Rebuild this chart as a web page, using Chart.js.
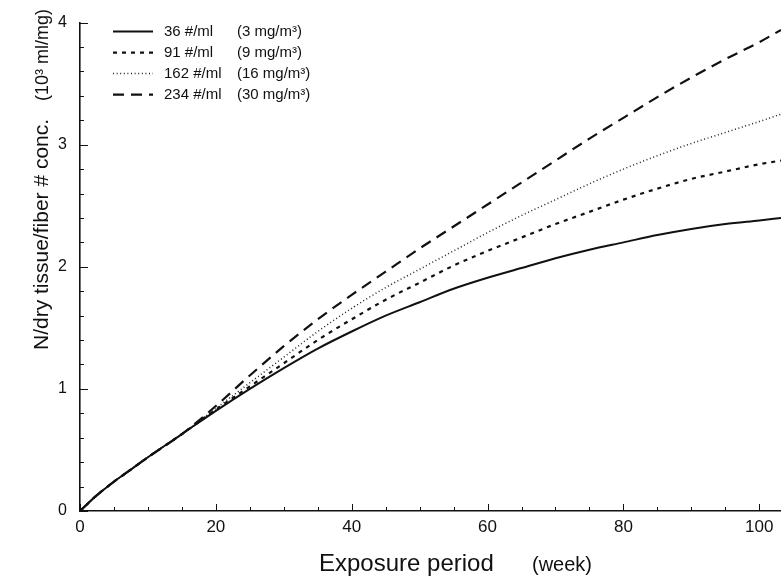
<!DOCTYPE html>
<html>
<head>
<meta charset="utf-8">
<script src="https://cdn.jsdelivr.net/npm/chart.js@4.4.1/dist/chart.umd.min.js"></script>
<style>
  html, body { margin: 0; padding: 0; background: #fff; }
  #wrap { width: 781px; height: 578px; position: relative; }
</style>
</head>
<body>
<div id="wrap"><canvas id="myChart"></canvas></div>
<script>
// exposure weeks (x) and normalised lung burden per concentration (y, 10^3 ml/mg)
const weeks   = [0, 2.5, 5, 7.5, 10, 15, 20, 25, 30, 35, 40, 45, 50, 55, 60, 65, 70, 75, 80, 85, 90, 95, 100, 103.2];
const conc36  = [0, 0.13, 0.24, 0.34, 0.44, 0.63, 0.82, 1.00, 1.17, 1.33, 1.47, 1.60, 1.71, 1.82, 1.91, 1.99, 2.07, 2.14, 2.20, 2.26, 2.31, 2.35, 2.38, 2.40];
const conc91  = [0, 0.13, 0.24, 0.34, 0.44, 0.63, 0.83, 1.02, 1.21, 1.40, 1.57, 1.73, 1.87, 2.01, 2.13, 2.24, 2.35, 2.45, 2.55, 2.64, 2.72, 2.78, 2.84, 2.87];
const conc162 = [0, 0.13, 0.24, 0.34, 0.44, 0.63, 0.84, 1.05, 1.26, 1.47, 1.66, 1.83, 1.98, 2.13, 2.28, 2.42, 2.55, 2.68, 2.80, 2.91, 3.01, 3.10, 3.19, 3.25];
const conc234 = [0, 0.13, 0.24, 0.34, 0.44, 0.63, 0.86, 1.11, 1.35, 1.57, 1.77, 1.96, 2.15, 2.33, 2.51, 2.69, 2.87, 3.05, 3.22, 3.39, 3.55, 3.70, 3.84, 3.94];

const fiberCounts = ['36 #/ml', '91 #/ml', '162 #/ml', '234 #/ml'];
const massConcs   = ['(3 mg/m\u00B3)', '(9 mg/m\u00B3)', '(16 mg/m\u00B3)', '(30 mg/m\u00B3)'];

const xTickLabels = [0, 20, 40, 60, 80, 100];
const yTickLabels = [0, 1, 2, 3, 4];
const xMinorStep = 5;
const yMinorStep = 0.2;

const FONT = '"Liberation Sans", Arial, Helvetica, sans-serif';
const INK = '#111';

const toPoints = (ys) => weeks.map((w, i) => ({ x: w, y: ys[i] }));

// small inward tick marks, positioned through the chart scales
const insideTicks = {
  id: 'insideTicks',
  afterDatasetsDraw(chart) {
    const { ctx, chartArea, scales: { x, y } } = chart;
    ctx.save();
    ctx.strokeStyle = INK;
    ctx.lineWidth = 1;
    ctx.setLineDash([]);
    for (let i = 0; i * xMinorStep <= x.max; i++) {
      const v = i * xMinorStep;
      const px = Math.round(x.getPixelForValue(v)) + 0.5;
      const len = xTickLabels.includes(v) ? 7 : 4;
      ctx.beginPath();
      ctx.moveTo(px, chartArea.bottom);
      ctx.lineTo(px, chartArea.bottom - len);
      ctx.stroke();
    }
    for (let i = 0; i * yMinorStep <= y.max + 1e-9; i++) {
      const v = +(i * yMinorStep).toFixed(1);
      const py = Math.round(y.getPixelForValue(v)) + 0.5;
      const len = yTickLabels.includes(v) ? 8 : 4;
      ctx.beginPath();
      ctx.moveTo(chartArea.left, py);
      ctx.lineTo(chartArea.left + len, py);
      ctx.stroke();
    }
    ctx.restore();
  }
};

// legend in the top-left corner and the two axis titles
const annotations = {
  id: 'annotations',
  afterDraw(chart) {
    const { ctx, chartArea } = chart;
    ctx.save();
    ctx.fillStyle = INK;
    // legend
    chart.data.datasets.forEach((ds, i) => {
      const y = chartArea.top + 9 + i * 21;
      ctx.strokeStyle = ds.borderColor;
      ctx.lineWidth = ds.borderWidth;
      ctx.setLineDash(ds.borderDash || []);
      ctx.beginPath();
      ctx.moveTo(chartArea.left + 33, y);
      ctx.lineTo(chartArea.left + 73, y);
      ctx.stroke();
      ctx.setLineDash([]);
      ctx.font = '15px ' + FONT;
      ctx.textBaseline = 'middle';
      ctx.textAlign = 'left';
      ctx.fillText(fiberCounts[i], chartArea.left + 84, y);
      ctx.fillText(massConcs[i], chartArea.left + 157, y);
    });
    // x title
    ctx.textBaseline = 'alphabetic';
    ctx.font = '24px ' + FONT;
    ctx.fillText('Exposure period', chartArea.left + 239, 571);
    ctx.font = '20px ' + FONT;
    ctx.fillText('(week)', chartArea.left + 452, 571);
    // y title
    ctx.translate(48, 350);
    ctx.rotate(-Math.PI / 2);
    ctx.font = '21px ' + FONT;
    const main = 'N/dry tissue/fiber # conc.';
    ctx.fillText(main, 0, 0);
    const w = ctx.measureText(main).width;
    ctx.font = '18px ' + FONT;
    ctx.fillText('(10\u00B3 ml/mg)', w + 18, 0);
    ctx.restore();
  }
};

const ctx = document.getElementById('myChart').getContext('2d');
const chart = new Chart(ctx, {
  type: 'line',
  data: {
    datasets: [
      { label: fiberCounts[0], data: toPoints(conc36),  borderColor: INK,    borderWidth: 2,   borderDash: [] },
      { label: fiberCounts[1], data: toPoints(conc91),  borderColor: INK,    borderWidth: 2.2, borderDash: [4, 5] },
      { label: fiberCounts[2], data: toPoints(conc162), borderColor: '#222', borderWidth: 1.5, borderDash: [1, 2.6] },
      { label: fiberCounts[3], data: toPoints(conc234), borderColor: INK,    borderWidth: 2.2, borderDash: [11, 7] }
    ]
  },
  options: {
    responsive: true,
    maintainAspectRatio: false,
    animation: false,
    layout: { padding: { top: 16, right: 0, left: 0, bottom: 0 } },
    elements: {
      point: { radius: 0 },
      line: { cubicInterpolationMode: 'monotone', fill: false }
    },
    scales: {
      x: {
        type: 'linear',
        min: 0,
        max: 103.2,
        afterBuildTicks: (s) => { s.ticks = xTickLabels.map(v => ({ value: v })); },
        afterFit: (s) => { s.height = 67; },
        grid: { display: false, drawTicks: false },
        border: { display: true, color: INK, width: 1.6 },
        ticks: { color: INK, font: { family: FONT, size: 17 }, padding: 6, maxRotation: 0 }
      },
      y: {
        type: 'linear',
        min: 0,
        max: 4,
        afterBuildTicks: (s) => { s.ticks = yTickLabels.map(v => ({ value: v })); },
        afterFit: (s) => { s.width = 80; },
        grid: { display: false, drawTicks: false },
        border: { display: true, color: INK, width: 1.6 },
        ticks: { color: INK, font: { family: FONT, size: 16 }, padding: 13 }
      }
    },
    plugins: {
      legend: { display: false },
      tooltip: { enabled: false }
    }
  },
  plugins: [insideTicks, annotations]
});
</script>
</body>
</html>
